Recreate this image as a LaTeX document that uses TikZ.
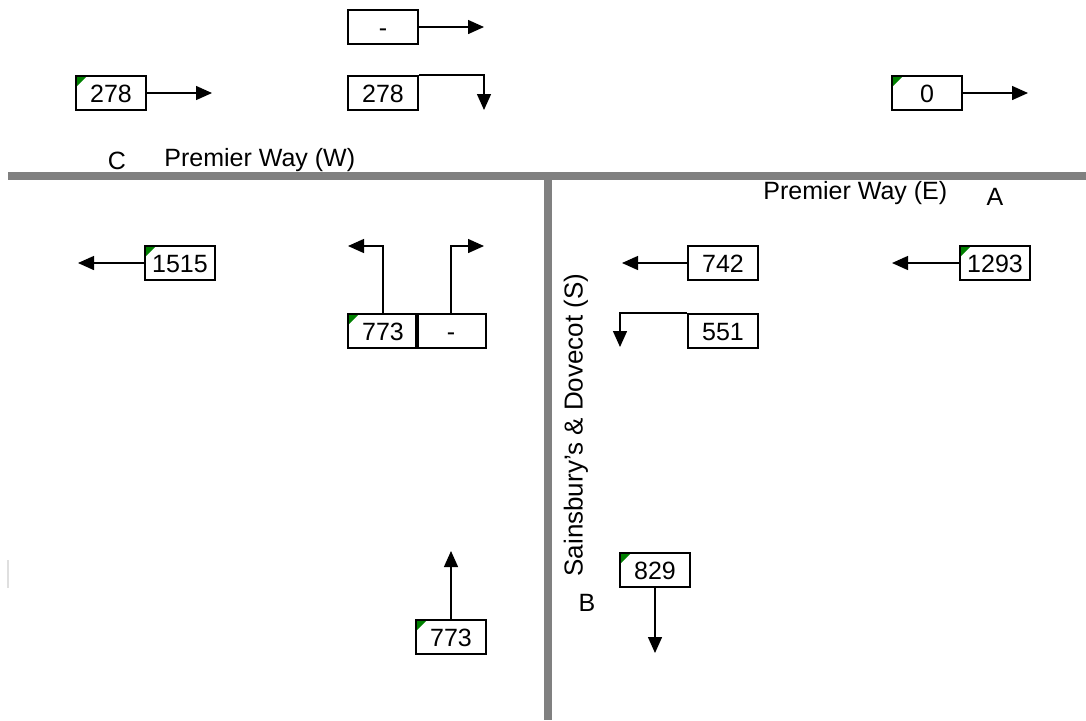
\documentclass[tikz,border=0pt]{standalone}
\usepackage{fontspec}
\setmainfont{Liberation Sans}
\usetikzlibrary{arrows.meta}

\definecolor{roadgray}{RGB}{128,128,128}
\definecolor{flaggreen}{RGB}{0,128,0}

\tikzset{
  cell/.style={draw, line width=1pt, minimum width=35pt, minimum height=17pt,
    inner sep=0pt, text height=9pt, text depth=0pt},
  flag/.style={cell, path picture={
    \fill[flaggreen] ([shift={(0.5pt,-0.5pt)}]path picture bounding box.north west)
      -- ++(4.5pt,0pt) -- ++(-4.5pt,-4.5pt) -- cycle;}},
  flow/.style={line width=0.7pt, -{Triangle[length=8pt,width=7pt]}},
  road/.style={roadgray, line width=4pt},
  lbl/.style={inner sep=0pt}
}

\begin{document}
\begin{tikzpicture}[x=0.5pt, y=-0.5pt, font=\fontsize{12.5}{15}\selectfont]
    \useasboundingbox (0,0) rectangle (1086,720);

    % Vias
    \draw[road] (8,176) -- (1086,176);
    \draw[road] (548,176) -- (548,720);
    \draw[gray!25, line width=1pt] (8,560) -- (8,588);

    % Nomes das vias
    \node[lbl] (lblC) at (117,161) {C};
    \node[lbl, anchor=west] (lblW) at (164,160) {Premier Way (W)};
    \node[lbl, anchor=west] (lblE) at (763,193) {Premier Way (E)};
    \node[lbl] (lblA) at (995,197) {A};
    \node[lbl, rotate=90, font=\fontsize{13}{15}\selectfont] (lblS) at (576,425)
      {Sainsbury's \& Dovecot (S)};
    \node[lbl] (lblB) at (587,603) {B};

    % Braço C
    \node[cell] (cDash) at (383,27) {-};
    \node[cell] (cRight) at (383,93) {278};
    \node[flag] (cIn) at (111,93) {278};
    \node[flag] (cOut) at (180,263) {1515};
    \coordinate (tipDash) at (484,27);
    \coordinate (tipRight) at (484,110);
    \coordinate (tipIn) at (212,93);
    \coordinate (tipOut) at (78,263);
    \draw[flow] (cDash.east) -- (tipDash);
    \draw[flow] (cRight.north east) -| (tipRight);
    \draw[flow] (cIn.east) -- (tipIn);
    \draw[flow] (cOut.west) -- (tipOut);

    % Braço B (aproximação)
    \node[flag] (bLeft) at (383,331) {773};
    \node[cell] (bRight) at (451,331) {-};
    \coordinate (tipBLeft) at (348,246);
    \coordinate (tipBRight) at (484,246);
    \draw[flow] (bLeft.north) |- (tipBLeft);
    \draw[flow] (bRight.north) |- (tipBRight);

    % Braço A
    \node[flag] (aOut) at (927,93) {0};
    \node[flag] (aIn) at (995,263) {1293};
    \node[cell] (aAhead) at (723,263) {742};
    \node[cell] (aLeft) at (723,331) {551};
    \coordinate (tipAOut) at (1028,93);
    \coordinate (tipAIn) at (892,263);
    \coordinate (tipAAhead) at (622,263);
    \coordinate (tipALeft) at (620,347);
    \draw[flow] (aOut.east) -- (tipAOut);
    \draw[flow] (aIn.west) -- (tipAIn);
    \draw[flow] (aAhead.west) -- (tipAAhead);
    \draw[flow] (aLeft.north west) -| (tipALeft);

    % Saída e entrada sul
    \node[flag] (sOut) at (655,570) {829};
    \node[flag] (sIn) at (451,637) {773};
    \coordinate (tipSOut) at (655,653);
    \coordinate (tipSIn) at (451,551);
    \draw[flow] (sOut.south) -- (tipSOut);
    \draw[flow] (sIn.north) -- (tipSIn);
\end{tikzpicture}
\end{document}
